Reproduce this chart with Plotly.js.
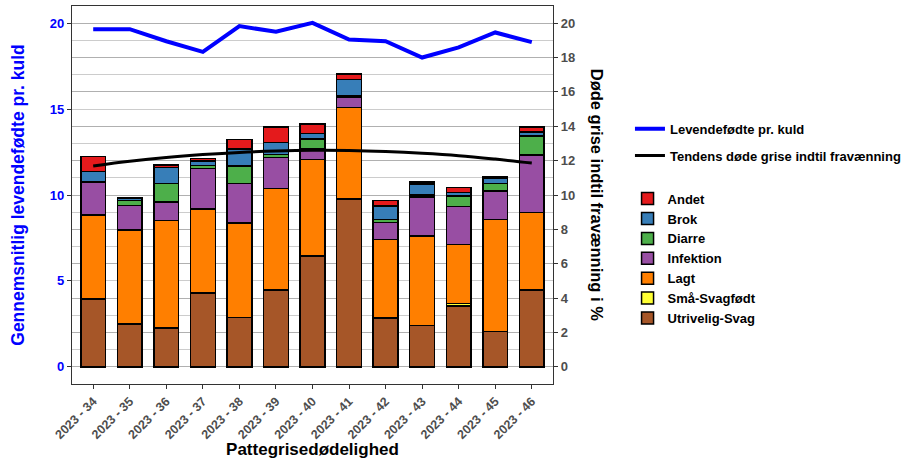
<!DOCTYPE html>
<html><head><meta charset="utf-8">
<script src="https://cdn.plot.ly/plotly-3.0.1.min.js"></script>
<style>body{margin:0;padding:0;background:#fff}#c{width:912px;height:459px}</style>
</head><body><div id="c"></div>
<script>
const weeks = ["2023 - 34","2023 - 35","2023 - 36","2023 - 37","2023 - 38","2023 - 39","2023 - 40","2023 - 41","2023 - 42","2023 - 43","2023 - 44","2023 - 45","2023 - 46"];
const utriveligSvag = [3.94,2.50,2.25,4.30,2.87,4.48,6.45,9.77,2.85,2.40,3.55,2.05,4.48];
const smaaSvagfoedt = [0,0,0,0,0,0,0,0,0,0,0.15,0,0];
const lagt = [4.90,5.47,6.28,4.89,5.50,5.89,5.62,5.31,4.55,5.22,3.41,6.51,4.49];
const infektion = [1.91,1.41,1.06,2.36,2.31,1.80,0.60,0.60,0.99,2.26,2.21,1.67,3.37];
const diarre = [0,0.29,1.09,0.17,1.01,0.19,0.59,0.08,0.19,0.12,0.62,0.43,1.09];
const brok = [0.63,0.12,0.93,0.26,1.00,0.70,0.33,0.97,0.78,0.64,0.22,0.34,0.23];
const andet = [0.87,0.07,0.13,0.15,0.53,0.89,0.54,0.30,0.31,0.13,0.29,0.05,0.31];
const levendefoedte = [19.65,19.65,18.95,18.33,19.83,19.50,20.02,19.05,18.95,18.00,18.59,19.46,18.90];
const tendens = [11.69,11.96,12.18,12.35,12.48,12.56,12.60,12.59,12.53,12.43,12.29,12.09,11.86];

const stackNames = ["Utrivelig-Svag","Små-Svagfødt","Lagt","Infektion","Diarre","Brok","Andet"];
const stackData = [utriveligSvag,smaaSvagfoedt,lagt,infektion,diarre,brok,andet];
const stackColors = ["#A65628","#FFFF33","#FF7F00","#984EA3","#4DAF4A","#377EB8","#E41A1C"];

const traces = [];
stackNames.forEach((n,i)=>{
  traces.push({type:'bar', name:n, x:weeks, y:stackData[i], yaxis:'y2', legend:'legend2',
    width:0.68, marker:{color:stackColors[i], line:{color:'#000', width:1.5}}});
});
traces.push({type:'scatter', mode:'lines', name:'Levendefødte pr. kuld', x:weeks, y:levendefoedte,
  yaxis:'y', line:{color:'#0000FF', width:4}, legend:'legend', legendgroup:'a'});
traces.push({type:'scatter', mode:'lines', name:'Tendens døde grise indtil fravænning', x:weeks, y:tendens,
  yaxis:'y2', line:{color:'#000', width:3, shape:'spline'}, legend:'legend', legendgroup:'b'});

const F = "Liberation Sans, Arial, sans-serif";
const layout = {
  width:912, height:459,
  margin:{l:72, r:353, t:6, b:75},
  paper_bgcolor:'#fff', plot_bgcolor:'#fff',
  font:{family:F},
  barmode:'stack',
  showlegend:true,
  xaxis:{type:'category', range:[-0.58,12.58], tickangle:-45,
    tickfont:{family:F, size:12.5, color:'#4d4d4d', weight:'bold'},
    ticks:'outside', ticklen:4, tickcolor:'#333',
    showline:true, linecolor:'#333', linewidth:1.2, mirror:true, showgrid:false,
    title:{text:'<b>Pattegrisedødelighed</b>', font:{family:F, size:17, color:'#000'}, standoff:0}},
  yaxis:{range:[-1,21], tickvals:[0,5,10,15,20], showgrid:false, zeroline:false,
    tickfont:{family:F, size:13, color:'#0000FF', weight:'bold'},
    ticks:'outside', ticklen:4, tickcolor:'#333',
    showline:true, linecolor:'#333', linewidth:1.2,
    title:{text:'<b>Gennemsnitlig levendefødte pr. kuld</b>', font:{family:F, size:17.5, color:'#0000FF'}, standoff:20}},
  yaxis2:{range:[-1,21], overlaying:'y', side:'right', tickvals:[0,2,4,6,8,10,12,14,16,18,20],
    showgrid:true, gridcolor:'#b0b0b0', gridwidth:1, zeroline:false,
    minor:{dtick:1, tick0:0, showgrid:true, gridcolor:'#cccccc', gridwidth:1, ticks:''},
    tickfont:{family:F, size:13, color:'#4d4d4d', weight:'bold'},
    ticks:'outside', ticklen:4, tickcolor:'#333',
    showline:true, linecolor:'#333', linewidth:1.2},
  legend:{x:1.16, y:0.715, xanchor:'left', yanchor:'top', traceorder:'grouped',
    font:{family:F, size:13, color:'#000', weight:'bold'}, bgcolor:'rgba(0,0,0,0)', tracegroupgap:7, itemwidth:30},
  legend2:{x:1.155, y:0.53, xanchor:'left', yanchor:'top', traceorder:'reversed',
    font:{family:F, size:13, color:'#000', weight:'bold'}, bgcolor:'rgba(0,0,0,0)', tracegroupgap:0, itemwidth:30},
  annotations:[{xref:'paper', yref:'paper', x:1.092, y:0.5, xanchor:'center', yanchor:'middle', textangle:90, showarrow:false,
    text:'<b>Døde grise indtil fravænning i %</b>', font:{family:F, size:16.5, color:'#000'}}]
};
Plotly.newPlot('c', traces, layout, {displayModeBar:false, staticPlot:true});
</script></body></html>
